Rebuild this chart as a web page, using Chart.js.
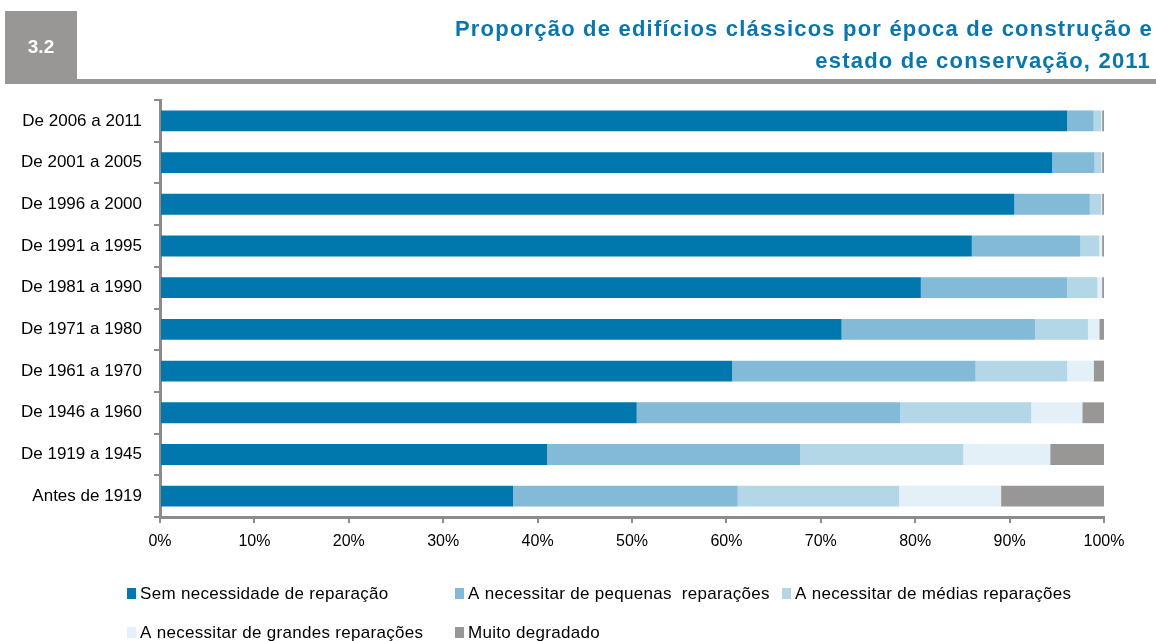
<!DOCTYPE html>
<html>
<head>
<meta charset="utf-8">
<script src="https://cdn.jsdelivr.net/npm/chart.js@4"></script>
<style>
  html, body { margin: 0; padding: 0; background: #fff; }
  #wrap { width: 1156px; height: 641px; }
</style>
</head>
<body>
<div id="wrap"><canvas id="graf"></canvas></div>
<script>
// epocas de construcao (de cima para baixo)
const epocas = ['De 2006 a 2011', 'De 2001 a 2005', 'De 1996 a 2000', 'De 1991 a 1995', 'De 1981 a 1990',
                'De 1971 a 1980', 'De 1961 a 1970', 'De 1946 a 1960', 'De 1919 a 1945', 'Antes de 1919'];

// % de edificios por estado de conservacao
const semReparacao = [96.1, 94.5, 90.5, 86.0, 80.6, 72.2, 60.6, 50.5, 41.0, 37.4];
const pequenas     = [ 2.8,  4.5,  8.0, 11.5, 15.5, 20.5, 25.8, 27.9, 26.8, 23.8];
const medias       = [ 0.8,  0.7,  1.2,  2.0,  3.2,  5.6,  9.7, 13.9, 17.3, 17.1];
const grandes      = [ 0.1,  0.1,  0.1,  0.3,  0.5,  1.2,  2.8,  5.4,  9.2, 10.8];
const degradado    = [ 0.2,  0.2,  0.2,  0.2,  0.2,  0.5,  1.1,  2.3,  5.7, 10.9];

const xTicks = [0, 10, 20, 30, 40, 50, 60, 70, 80, 90, 100];

const fonte = '"Liberation Sans", Arial, sans-serif';
const cinza = '#8c8c8c';

// cabecalho (caixa 3.2 + titulo) e legenda em grelha
const extras = {
  id: 'extras',
  afterDraw(chart) {
    const c = chart.ctx;
    c.save();
    c.fillStyle = '#989795';
    c.fillRect(5, 11, 72, 73);
    c.fillRect(77, 79, 1079, 5);
    c.fillStyle = '#fff';
    c.font = 'bold 19px ' + fonte;
    c.textAlign = 'center';
    c.textBaseline = 'middle';
    c.fillText('3.2', 41, 48);

    c.fillStyle = '#0A76AE';
    c.font = 'bold 22px ' + fonte;
    c.textAlign = 'right';
    c.letterSpacing = '1.2px';
    c.fillText('Proporção de edifícios clássicos por época de construção e', 1153, 30);
    c.fillText('estado de conservação, 2011', 1151, 62);
    c.letterSpacing = '0px';

    // legenda
    const pos = [[127, 594], [455, 594], [782, 594], [127, 633], [455, 633]];
    c.font = '17px ' + fonte;
    c.letterSpacing = '0.3px';
    c.textAlign = 'left';
    chart.data.datasets.forEach((ds, i) => {
      const [x, y] = pos[i];
      c.fillStyle = ds.backgroundColor;
      c.fillRect(x, y - 6, 9, 11);
      c.fillStyle = '#000';
      c.fillText(ds.label, x + 13, y);
    });
    c.restore();
  }
};

new Chart(document.getElementById('graf'), {
  type: 'bar',
  data: {
    labels: epocas,
    datasets: [
      { label: 'Sem necessidade de reparação', data: semReparacao, backgroundColor: '#0077AD' },
      { label: 'A necessitar de pequenas  reparações', data: pequenas, backgroundColor: '#82BAD7' },
      { label: 'A necessitar de médias reparações', data: medias, backgroundColor: '#B3D7E7' },
      { label: 'A necessitar de grandes reparações', data: grandes, backgroundColor: '#E4F0F7' },
      { label: 'Muito degradado', data: degradado, backgroundColor: '#989795' }
    ]
  },
  options: {
    indexAxis: 'y',
    responsive: true,
    maintainAspectRatio: false,
    animation: false,
    barPercentage: 0.5,
    categoryPercentage: 1.0,
    layout: { padding: { top: 100, right: 52, bottom: 83, left: 0 } },
    plugins: {
      legend: { display: false },
      tooltip: { enabled: false }
    },
    scales: {
      x: {
        stacked: true,
        min: 0,
        max: 100,
        afterBuildTicks: (s) => { s.ticks = xTicks.map(v => ({ value: v })); },
        afterFit: (s) => { s.height = 41; },
        border: { display: true, color: cinza, width: 3 },
        grid: { drawOnChartArea: false, drawTicks: true, tickLength: 6, color: cinza, lineWidth: 2 },
        ticks: { color: '#000', font: { family: fonte, size: 16 }, padding: 9, callback: v => v + '%' }
      },
      y: {
        stacked: true,
        afterFit: (s) => { s.width = 160; },
        border: { display: true, color: cinza, width: 3 },
        grid: { drawOnChartArea: false, drawTicks: true, tickLength: 6, color: cinza, lineWidth: 2, offset: true },
        ticks: { color: '#000', font: { family: fonte, size: 17 }, padding: 12 }
      }
    }
  },
  plugins: [extras]
});
</script>
</body>
</html>
